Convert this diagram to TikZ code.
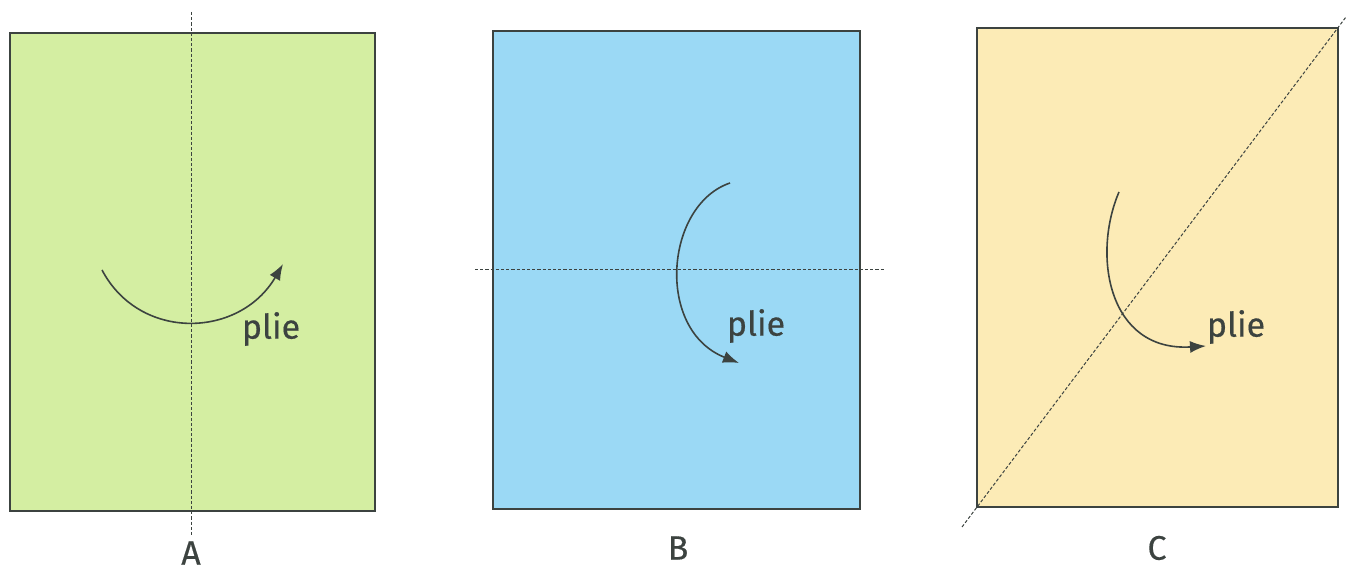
\documentclass[tikz,border=0pt]{standalone}
\usepackage{fontspec}
\setmainfont{Fira Sans}[FakeBold=0.4]
\usetikzlibrary{calc,arrows.meta}
\definecolor{sheetgreen}{HTML}{D4EEA2}
\definecolor{sheetblue}{HTML}{9BD9F5}
\definecolor{sheetyellow}{HTML}{FCEBB6}
\definecolor{ink}{HTML}{3C4340}

\begin{document}
\begin{tikzpicture}[x=0.5pt,y=-0.5pt,
    sheet/.style={draw=ink, line width=0.7pt},
    foldline/.style={draw=ink, line width=0.5pt, dash pattern=on 1.6pt off 1pt},
    foldarrow/.style={draw=ink, line width=0.8pt, -{Latex[length=8pt,width=6pt]}},
    plie/.style={text=ink, inner sep=0pt, font=\fontsize{17}{20}\selectfont},
    letter/.style={text=ink, inner sep=0pt, font=\fontsize{17}{20}\selectfont}]
  \useasboundingbox (0,0) rectangle (1346,581);
  % SHEET A (green): fold along the vertical middle line
  \filldraw[sheet, fill=sheetgreen] (10,33) rectangle (375,511);
  \coordinate (a-top) at (191,12);
  \coordinate (a-bot) at (191,537);
  \draw[foldline] (a-top) -- (a-bot);
  \coordinate (a-from) at (102,270);
  \coordinate (a-to) at (283,264);
  \draw[foldarrow] (a-from) .. controls (140,342) and (240,338) .. (a-to);
  \node[plie] (pa) at (271,329) {plie};
  \node[letter] (la) at (191,553) {A};
  % SHEET B (blue): fold along the horizontal middle line
  \filldraw[sheet, fill=sheetblue] (493,31) rectangle (860,509);
  \coordinate (b-left) at (475,270);
  \coordinate (b-right) at (885,270);
  \draw[foldline] (b-left) -- (b-right);
  \coordinate (b-from) at (730,183);
  \coordinate (b-to) at (739,363);
  \draw[foldarrow] (b-from) .. controls (665,205) and (655,330) .. (b-to);
  \node[plie] (pb) at (756,326) {plie};
  \node[letter] (lb) at (678,548) {B};
  % SHEET C (yellow): fold along the diagonal
  \filldraw[sheet, fill=sheetyellow] (977,28) rectangle (1338,507);
  \coordinate (c-sw) at (962,527);
  \coordinate (c-ne) at (1346,17);
  \draw[foldline] (c-sw) -- (c-ne);
  \coordinate (c-from) at (1119,192);
  \coordinate (c-to) at (1206,346);
  \draw[foldarrow] (c-from) .. controls (1092,255) and (1108,352) .. (c-to);
  \node[plie] (pc) at (1236,327) {plie};
  \node[letter] (lc) at (1157,548) {C};
\end{tikzpicture}
\end{document}
